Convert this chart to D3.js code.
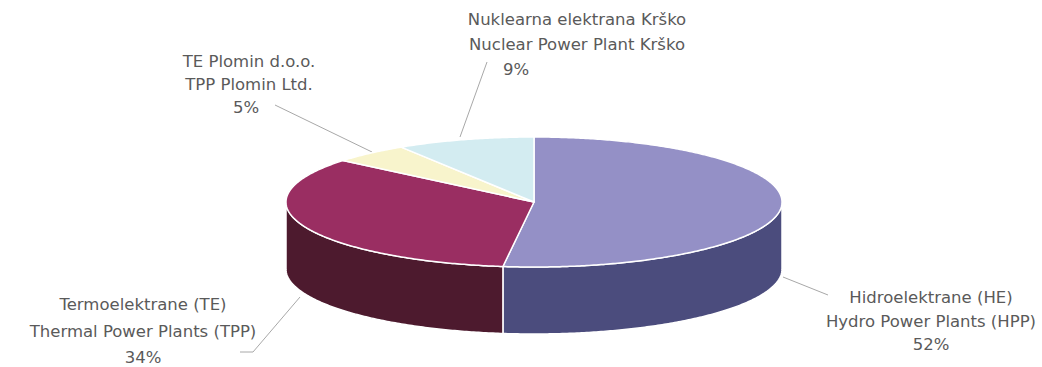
<!DOCTYPE html>
<html>
<head>
<meta charset="utf-8">
<script src="https://cdn.jsdelivr.net/npm/d3@7"></script>
<style>
  html, body { margin: 0; padding: 0; background: #fff; }
  svg { display: block; }
  text { font-family: "DejaVu Sans", Verdana, sans-serif; font-size: 16.5px; fill: #5a5a5a; }
</style>
</head>
<body>
<svg id="chart" width="1042" height="367"></svg>
<script>
// ---- data ----
const categories = ["hydro", "thermal", "plomin", "krsko"];
const values = [52, 34, 5, 9];
const labelLines = [
  ["Hidroelektrane (HE)", "Hydro Power Plants (HPP)"],
  ["Termoelektrane (TE)", "Thermal Power Plants (TPP)"],
  ["TE Plomin d.o.o.", "TPP Plomin Ltd."],
  ["Nuklearna elektrana Krško", "Nuclear Power Plant Krško"]
];
const percentLabels = ["52%", "34%", "5%", "9%"];

// ---- styles / layout ----
const topColors = ["#9490c6", "#9a2e62", "#f8f4cc", "#d3ecf1"];
const sideColors = ["#4b4c7d", "#4d1a2e", "#c9c59e", "#a9c4ca"];
const cx = 534, cy = 202, rx = 248, ry = 65, depth = 67;
// label layout: [x of text lines, y of first baseline, line step, x of percent]
const labelLayout = [
  { x: 931, y: 303, step: 23.5, px: 931 },
  { x: 143, y: 310, step: 26.5, px: 143 },
  { x: 249, y: 67, step: 23, px: 246 },
  { x: 577, y: 25, step: 25, px: 516 }
];
const leaders = [
  [[783, 277], [828, 295]],
  [[300, 297], [253, 352], [240, 352]],
  [[372, 152], [275, 105]],
  [[460, 137], [487, 62]]
];

const svg = d3.select("#chart");
const pie = d3.pie().sort(null).startAngle(0).endAngle(2 * Math.PI);
const arcs = pie(values);

const ex = a => cx + rx * Math.sin(a);
const ey = (a, off) => cy - ry * Math.cos(a) + (off || 0);

function topPath(a0, a1) {
  const p = d3.path();
  p.moveTo(cx, cy);
  const n = Math.max(2, Math.ceil((a1 - a0) / 0.01));
  for (let i = 0; i <= n; i++) {
    const a = a0 + (a1 - a0) * i / n;
    p.lineTo(ex(a), ey(a));
  }
  p.closePath();
  return p.toString();
}
function sidePath(a0, a1) {
  const p = d3.path();
  const n = Math.max(2, Math.ceil((a1 - a0) / 0.01));
  for (let i = 0; i <= n; i++) {
    const a = a0 + (a1 - a0) * i / n;
    if (i === 0) p.moveTo(ex(a), ey(a)); else p.lineTo(ex(a), ey(a));
  }
  for (let i = n; i >= 0; i--) {
    const a = a0 + (a1 - a0) * i / n;
    p.lineTo(ex(a), ey(a, depth));
  }
  p.closePath();
  return p.toString();
}

// leader lines
const line = d3.line();
svg.append("g").selectAll("path").data(leaders).join("path")
  .attr("d", d => line(d))
  .attr("fill", "none")
  .attr("stroke", "#a8a8a8")
  .attr("stroke-width", 1);

// side walls (front half: angles between PI/2 and 3PI/2)
const gSide = svg.append("g");
arcs.forEach((d, i) => {
  const a0 = Math.max(d.startAngle, Math.PI / 2);
  const a1 = Math.min(d.endAngle, 3 * Math.PI / 2);
  if (a1 > a0) {
    gSide.append("path")
      .attr("d", sidePath(a0, a1))
      .attr("fill", sideColors[i])
      .attr("stroke", "#ffffff")
      .attr("stroke-width", 1.5)
      .attr("stroke-linejoin", "round");
  }
});

// top faces
svg.append("g").selectAll("path").data(arcs).join("path")
  .attr("d", d => topPath(d.startAngle, d.endAngle))
  .attr("fill", (d, i) => topColors[i])
  .attr("stroke", "#ffffff")
  .attr("stroke-width", 1.5)
  .attr("stroke-linejoin", "round");

// labels
const gLab = svg.append("g");
categories.forEach((c, i) => {
  const L = labelLayout[i];
  labelLines[i].forEach((t, j) => {
    gLab.append("text").attr("x", L.x).attr("y", L.y + j * L.step)
      .attr("text-anchor", "middle").text(t);
  });
  gLab.append("text").attr("x", L.px).attr("y", L.y + 2 * L.step)
    .attr("text-anchor", "middle").text(percentLabels[i]);
});
</script>
</body>
</html>
